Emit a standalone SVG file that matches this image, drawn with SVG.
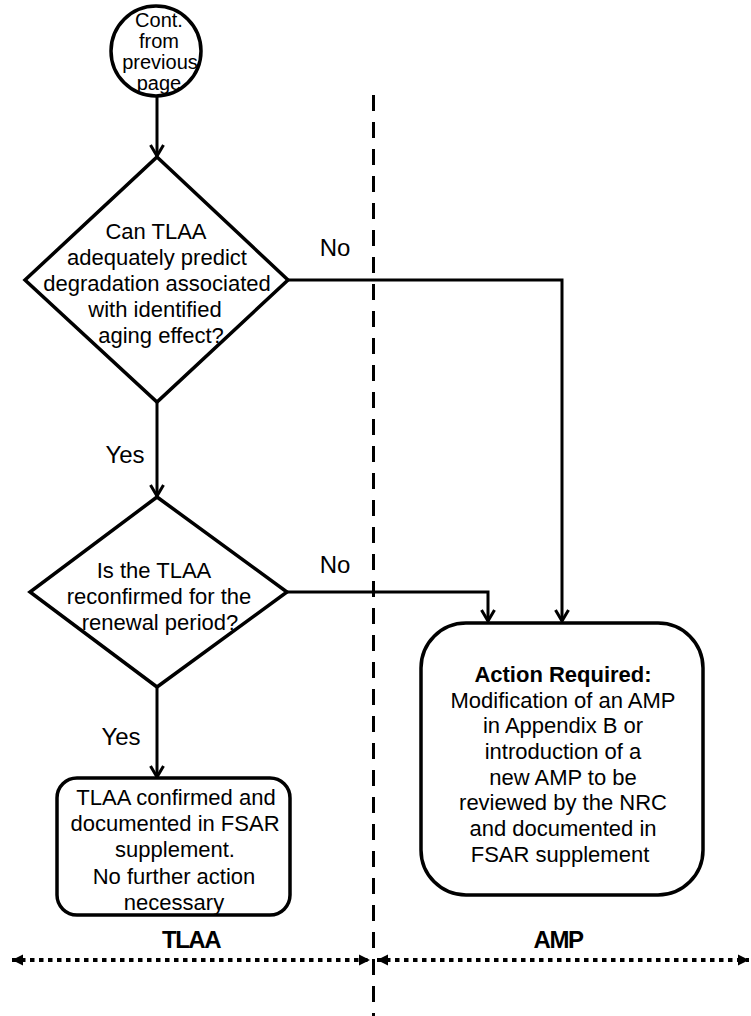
<svg xmlns="http://www.w3.org/2000/svg" width="751" height="1016" viewBox="0 0 751 1016">
<style>
  .shape { fill: #ffffff; stroke: #000000; stroke-width: 3.5; }
  .conn { fill: none; stroke: #000000; stroke-width: 3; }
  .t { font-family: "Liberation Sans", Arial, sans-serif; font-size: 22px; fill: #000000; text-anchor: middle; }
  .tc { font-family: "Liberation Sans", Arial, sans-serif; font-size: 20px; fill: #000000; text-anchor: middle; }
  .lbl { font-family: "Liberation Sans", Arial, sans-serif; font-size: 24px; fill: #000000; text-anchor: middle; }
  .b { font-weight: bold; }
  .zone { font-family: "Liberation Sans", Arial, sans-serif; font-size: 24px; font-weight: bold; letter-spacing: -1.5px; fill: #000000; text-anchor: middle; }
  .divider { fill: none; stroke: #000000; stroke-width: 3; stroke-dasharray: 16 11; }
  .dotted { fill: none; stroke: #000000; stroke-width: 4; stroke-dasharray: 4.5 4.5; }
</style>
<defs>
  <marker id="open" markerUnits="userSpaceOnUse" markerWidth="16" markerHeight="16" viewBox="0 0 16 16" refX="13" refY="8" orient="auto">
    <path d="M2,1.5 L13,8 L2,14.5" fill="none" stroke="#000000" stroke-width="3" stroke-linejoin="miter"/>
  </marker>
  <marker id="solid" markerUnits="userSpaceOnUse" markerWidth="12" markerHeight="12" viewBox="0 0 12 12" refX="11" refY="6" orient="auto-start-reverse">
    <path d="M0,0.5 L11,6 L0,11.5 z" fill="#000000"/>
  </marker>
</defs>

<g id="divider">
  <line class="divider" x1="373.5" y1="95" x2="373.5" y2="1016"/>
</g>

<g id="connectors">
  <line class="conn" x1="157" y1="96" x2="157" y2="156" marker-end="url(#open)"/>
  <polyline class="conn" points="288,280 562,280 562,621" marker-end="url(#open)"/>
  <line class="conn" x1="157" y1="402" x2="157" y2="496" marker-end="url(#open)"/>
  <polyline class="conn" points="287,592 488,592 488,621" marker-end="url(#open)"/>
  <line class="conn" x1="157" y1="687" x2="157" y2="777" marker-end="url(#open)"/>
  <text class="lbl" x="335" y="256">No</text>
  <text class="lbl" x="125" y="463">Yes</text>
  <text class="lbl" x="335" y="573">No</text>
  <text class="lbl" x="121" y="745">Yes</text>
</g>

<g id="start">
  <circle class="shape" cx="156" cy="51" r="45"/>
  <text class="tc" x="159" y="27">Cont.</text>
  <text class="tc" x="159" y="48">from</text>
  <text class="tc" x="160" y="69">previous</text>
  <text class="tc" x="159" y="90">page</text>
</g>

<g id="decision1">
  <polygon class="shape" points="157,157 288,280 157,402 25,280"/>
  <text class="t" x="156" y="239">Can TLAA</text>
  <text class="t" x="157" y="265">adequately predict</text>
  <text class="t" x="157" y="291">degradation associated</text>
  <text class="t" x="155" y="317">with identified</text>
  <text class="t" x="161" y="343">aging effect?</text>
</g>

<g id="decision2">
  <polygon class="shape" points="157,497 287,592 157,687 30,592"/>
  <text class="t" x="154" y="578">Is the TLAA</text>
  <text class="t" x="159" y="604">reconfirmed for the</text>
  <text class="t" x="160" y="630">renewal period?</text>
</g>

<g id="tlaa-result">
  <rect class="shape" x="57" y="778" width="233" height="137" rx="20" ry="20"/>
  <text class="t" x="176" y="805">TLAA confirmed and</text>
  <text class="t" x="175" y="831">documented in FSAR</text>
  <text class="t" x="175" y="857">supplement.</text>
  <text class="t" x="174" y="884">No further action</text>
  <text class="t" x="174" y="910">necessary</text>
</g>

<g id="amp-result">
  <rect class="shape" x="421" y="623" width="282" height="272" rx="45" ry="45"/>
  <text class="t b" x="563" y="682">Action Required:</text>
  <text class="t" x="563" y="708">Modification of an AMP</text>
  <text class="t" x="563" y="733">in Appendix B or</text>
  <text class="t" x="563" y="759">introduction of a</text>
  <text class="t" x="563" y="785">new AMP to be</text>
  <text class="t" x="563" y="810">reviewed by the NRC</text>
  <text class="t" x="563" y="836">and documented in</text>
  <text class="t" x="560" y="862">FSAR supplement</text>
</g>

<g id="zones">
  <line class="dotted" x1="12" y1="960" x2="370" y2="960" marker-start="url(#solid)" marker-end="url(#solid)"/>
  <line class="dotted" x1="377" y1="960" x2="749" y2="960" marker-start="url(#solid)" marker-end="url(#solid)"/>
  <text class="zone" x="191" y="948">TLAA</text>
  <text class="zone" x="558" y="948">AMP</text>
</g>
</svg>
